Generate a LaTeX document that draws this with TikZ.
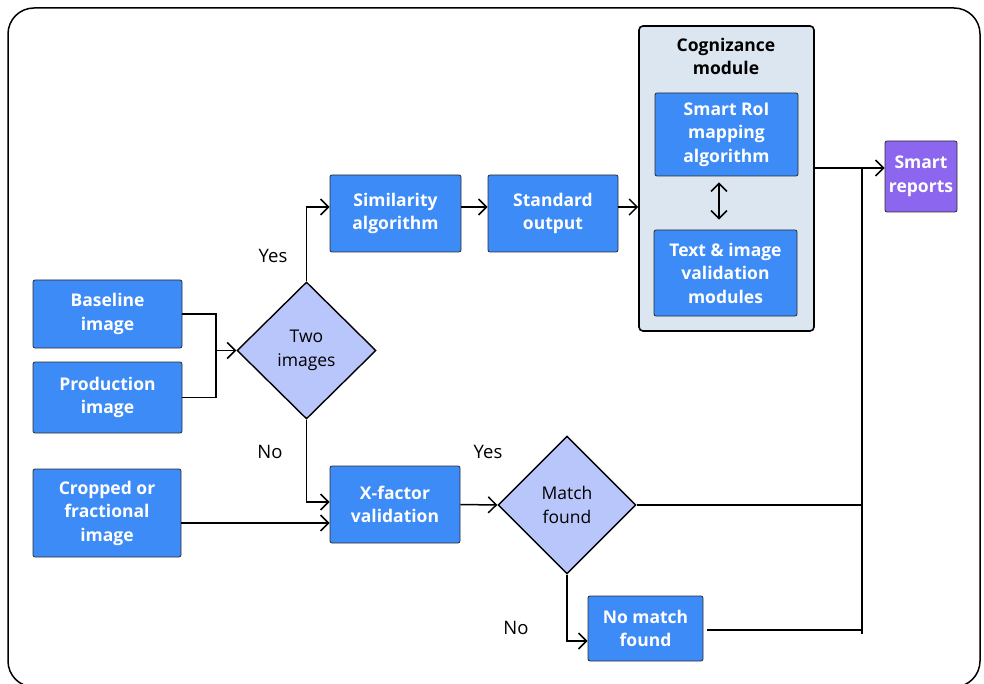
\documentclass[tikz,border=0pt]{standalone}
\usepackage{fontspec}
\setmainfont{Open Sans}
\usetikzlibrary{shapes.geometric,arrows.meta}
\definecolor{boxblue}{RGB}{61,139,247}
\definecolor{diafill}{RGB}{185,198,251}
\definecolor{cogfill}{RGB}{220,230,240}
\definecolor{purp}{RGB}{140,102,238}
\definecolor{edgegray}{RGB}{45,45,45}
\tikzset{
  blk/.style={draw=edgegray, line width=0.8pt, fill=boxblue, rounded corners=2pt, text=white,
    font=\fontsize{17.5}{23.5}\selectfont\bfseries, align=center, inner sep=0pt,
    execute at begin node={\rule{0pt}{24pt}}},
  purpblk/.style={blk, fill=purp},
  dia/.style={draw=black, line width=1.4pt, fill=diafill, shape=diamond, inner sep=0pt,
    font=\fontsize{17.5}{23.5}\selectfont, align=center,
    execute at begin node={\rule{0pt}{22pt}}},
  conn/.style={line width=1.5pt, draw=black},
  arr/.style={conn, -{Straight Barb[length=8pt,width=16pt,line width=1.5pt]}},
  darr/.style={conn, {Straight Barb[length=8pt,width=16pt,line width=1.5pt]}-{Straight Barb[length=8pt,width=16pt,line width=1.5pt]}},
  lbl/.style={font=\fontsize{18.5}{22}\selectfont, inner sep=0pt}
}
\begin{document}
\begin{tikzpicture}[x=1pt,y=-1pt]
\useasboundingbox (0,0) rectangle (984,684);
\draw[line width=1.5pt, rounded corners=26pt] (8,8) rectangle (980,687);

% cognizance container
\node[draw=black, line width=1.6pt, fill=cogfill, rounded corners=4pt, minimum width=175pt, minimum height=305pt, inner sep=0pt] (cog) at (726.5,178.5) {};
\node[font=\fontsize{17.5}{23.5}\selectfont\bfseries, align=center] (cogt) at (726,56.5) {Cognizance\\module};

\node[blk, minimum width=149pt, minimum height=68pt] (base) at (107.5,314) {Baseline\\image};
\node[blk, minimum width=149pt, minimum height=71pt] (prod) at (107.5,397.5) {Production\\image};
\node[blk, minimum width=148pt, minimum height=88pt] (crop) at (107,513) {Cropped or\\fractional\\image};
\node[dia, minimum width=139pt, minimum height=137pt] (two) at (306.5,350.5) {Two\\images};
\node[blk, minimum width=131pt, minimum height=77pt] (sim) at (395.5,213.5) {Similarity\\algorithm};
\node[blk, minimum width=130pt, minimum height=77pt] (std) at (553,213.5) {Standard\\output};
\node[blk, minimum width=143pt, minimum height=83pt] (roi) at (726.5,134.5) {Smart RoI\\mapping\\algorithm};
\node[blk, minimum width=143pt, minimum height=86pt] (txt) at (725.5,273) {Text \& image\\validation\\modules};
\node[purpblk, minimum width=72pt, minimum height=71pt] (rep) at (921,176.5) {Smart\\reports};
\node[blk, minimum width=130pt, minimum height=77pt] (xf) at (395,504.5) {X-factor\\validation};
\node[dia, minimum width=138pt, minimum height=138pt] (match) at (567,505) {Match\\found};
\node[blk, minimum width=115pt, minimum height=65pt] (nomatch) at (645.5,628.5) {No match\\found};

% labels
\node[lbl] (yes1) at (273,256) {Yes};
\node[lbl] (no1) at (270,452) {No};
\node[lbl] (yes2) at (488,452) {Yes};
\node[lbl] (no2) at (516,628) {No};

% junction on the left
\coordinate (jt) at (216,314);
\coordinate (jb) at (216,397.5);
\coordinate (jm) at (216,350.5);
\draw[conn] (base.east) -- (jt) -- (jb) -- (prod.east);
\draw[arr] (jm) -- (two.west);

% yes branch
\draw[arr] (two.north) |- ([yshift=6.5pt]sim.west);
\draw[arr] ([yshift=6.5pt]sim.east) -- ([yshift=6.5pt]std.west);
\draw[arr] ([yshift=6.5pt]std.east) -- (cog.west |- 0,207);

% no branch
\draw[arr] (two.south) |- ([yshift=2.5pt]xf.west);
\coordinate (ca) at ([yshift=-10pt]crop.east);
\draw[arr] (ca) -- (xf.west |- ca);
\draw[arr] (xf.east) -- (match.west);
\draw[arr] (match.south) |- ([yshift=-12.5pt]nomatch.west);

% inner double arrow
\draw[darr] ([xshift=-7.5pt,yshift=-6pt]roi.south) -- ([xshift=-6.5pt,yshift=10pt]txt.north);

% right bus
\coordinate (bt) at (862,168);
\coordinate (bb) at (862,634);
\draw[arr] (cog.east |- bt) -- (rep.west |- bt);
\draw[conn] (bt) -- (bb);
\draw[conn] (match.east) -- (bb |- match.east);
\draw[conn] ([xshift=4pt,yshift=-1.5pt]nomatch.east) -- (bb |- 0,630);
\end{tikzpicture}
\end{document}
